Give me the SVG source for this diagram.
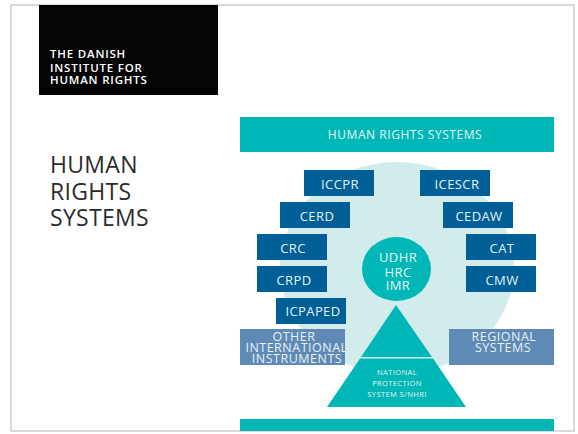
<svg xmlns="http://www.w3.org/2000/svg" width="578" height="434" viewBox="0 0 578 434">
<style>
text{font-family:"Open Sans","Noto Sans",sans-serif;text-anchor:middle;fill:#e6f4f5}
.b{fill:#005f96}.g{fill:#5f8ab5}.t{fill:#00b7b7}
.l{font-size:13px;letter-spacing:.4px}
.r{font-size:12.500px;letter-spacing:.5px}
.n{font-size:7.500px;letter-spacing:.4px}
.logo{font-size:11.500px;font-weight:600;fill:#fff;text-anchor:start;letter-spacing:.8px}
.h{font-size:23px;fill:#2b2b2b;text-anchor:start;letter-spacing:.3px}
</style>
<rect width="578" height="434" fill="#fff"/>
<rect id="frame" x="11" y="5" width="563" height="426" fill="none" stroke="#b5b5b5"/>
<g id="logo"><rect x="39" y="5" width="179" height="90" fill="#040404"/>
<text class="logo" x="50" y="58">THE DANISH<tspan x="50" dy="13.500">INSTITUTE FOR</tspan><tspan x="50" dy="12.500">HUMAN RIGHTS</tspan></text></g>
<g id="title"><text class="h" x="50" y="173">HUMAN<tspan x="50" dy="27">RIGHTS</tspan><tspan x="50" dy="26">SYSTEMS</tspan></text></g>
<g id="header"><rect class="t" x="240" y="117" width="314" height="35"/><text x="405" y="139" style="font-size:12px;letter-spacing:.55px">HUMAN RIGHTS SYSTEMS</text></g>
<g id="footer"><rect class="t" x="240" y="419" width="314" height="12"/></g>
<g id="bg"><ellipse cx="397" cy="268" rx="117" ry="106" fill="#d2ecec"/></g>
<g id="iccpr"><rect class="b" x="304" y="170" width="70" height="26"/><text class="l" x="340" y="189">ICCPR</text></g>
<g id="icescr"><rect class="b" x="420" y="170" width="70" height="26"/><text class="l" x="457" y="189">ICESCR</text></g>
<g id="cerd"><rect class="b" x="280" y="202" width="70" height="26"/><text class="l" x="317" y="221">CERD</text></g>
<g id="cedaw"><rect class="b" x="443" y="202" width="70" height="26"/><text class="l" x="479" y="221">CEDAW</text></g>
<g id="crc"><rect class="b" x="257" y="234" width="70" height="26"/><text class="l" x="293" y="253">CRC</text></g>
<g id="cat"><rect class="b" x="466" y="234" width="70" height="26"/><text class="l" x="502" y="253">CAT</text></g>
<g id="crpd"><rect class="b" x="257" y="266" width="70" height="26"/><text class="l" x="294" y="285">CRPD</text></g>
<g id="cmw"><rect class="b" x="466" y="266" width="70" height="26"/><text class="l" x="502" y="285">CMW</text></g>
<g id="icpaped"><rect class="b" x="276" y="298" width="70" height="26"/><text class="l" x="313" y="316">ICPAPED</text></g>
<g id="other"><rect class="g" x="240" y="329" width="105" height="36"/><text class="r" x="294" y="341">OTHER<tspan x="296.500" dy="11">INTERNATIONAL</tspan><tspan x="297" dy="11">INSTRUMENTS</tspan></text></g>
<g id="regional"><rect class="g" x="449" y="329" width="105" height="36"/><text class="r" x="504" y="341">REGIONAL<tspan x="503" dy="11">SYSTEMS</tspan></text></g>
<g id="udhr"><ellipse class="t" cx="396.500" cy="269" rx="34.500" ry="32"/><text class="l" x="398" y="262">UDHR<tspan x="398" dy="14.500">HRC</tspan><tspan x="398" dy="13.500">IMR</tspan></text></g>
<g id="top"><polygon class="t" points="396,305 432,357 361,357"/></g>
<g id="nhri"><polygon class="t" points="360,358.500 433,358.500 466,407 327,407"/><text class="n" x="397" y="375">NATIONAL<tspan x="397" dy="11">PROTECTION</tspan><tspan x="397" dy="11">SYSTEM S/NHRI</tspan></text></g>
</svg>
